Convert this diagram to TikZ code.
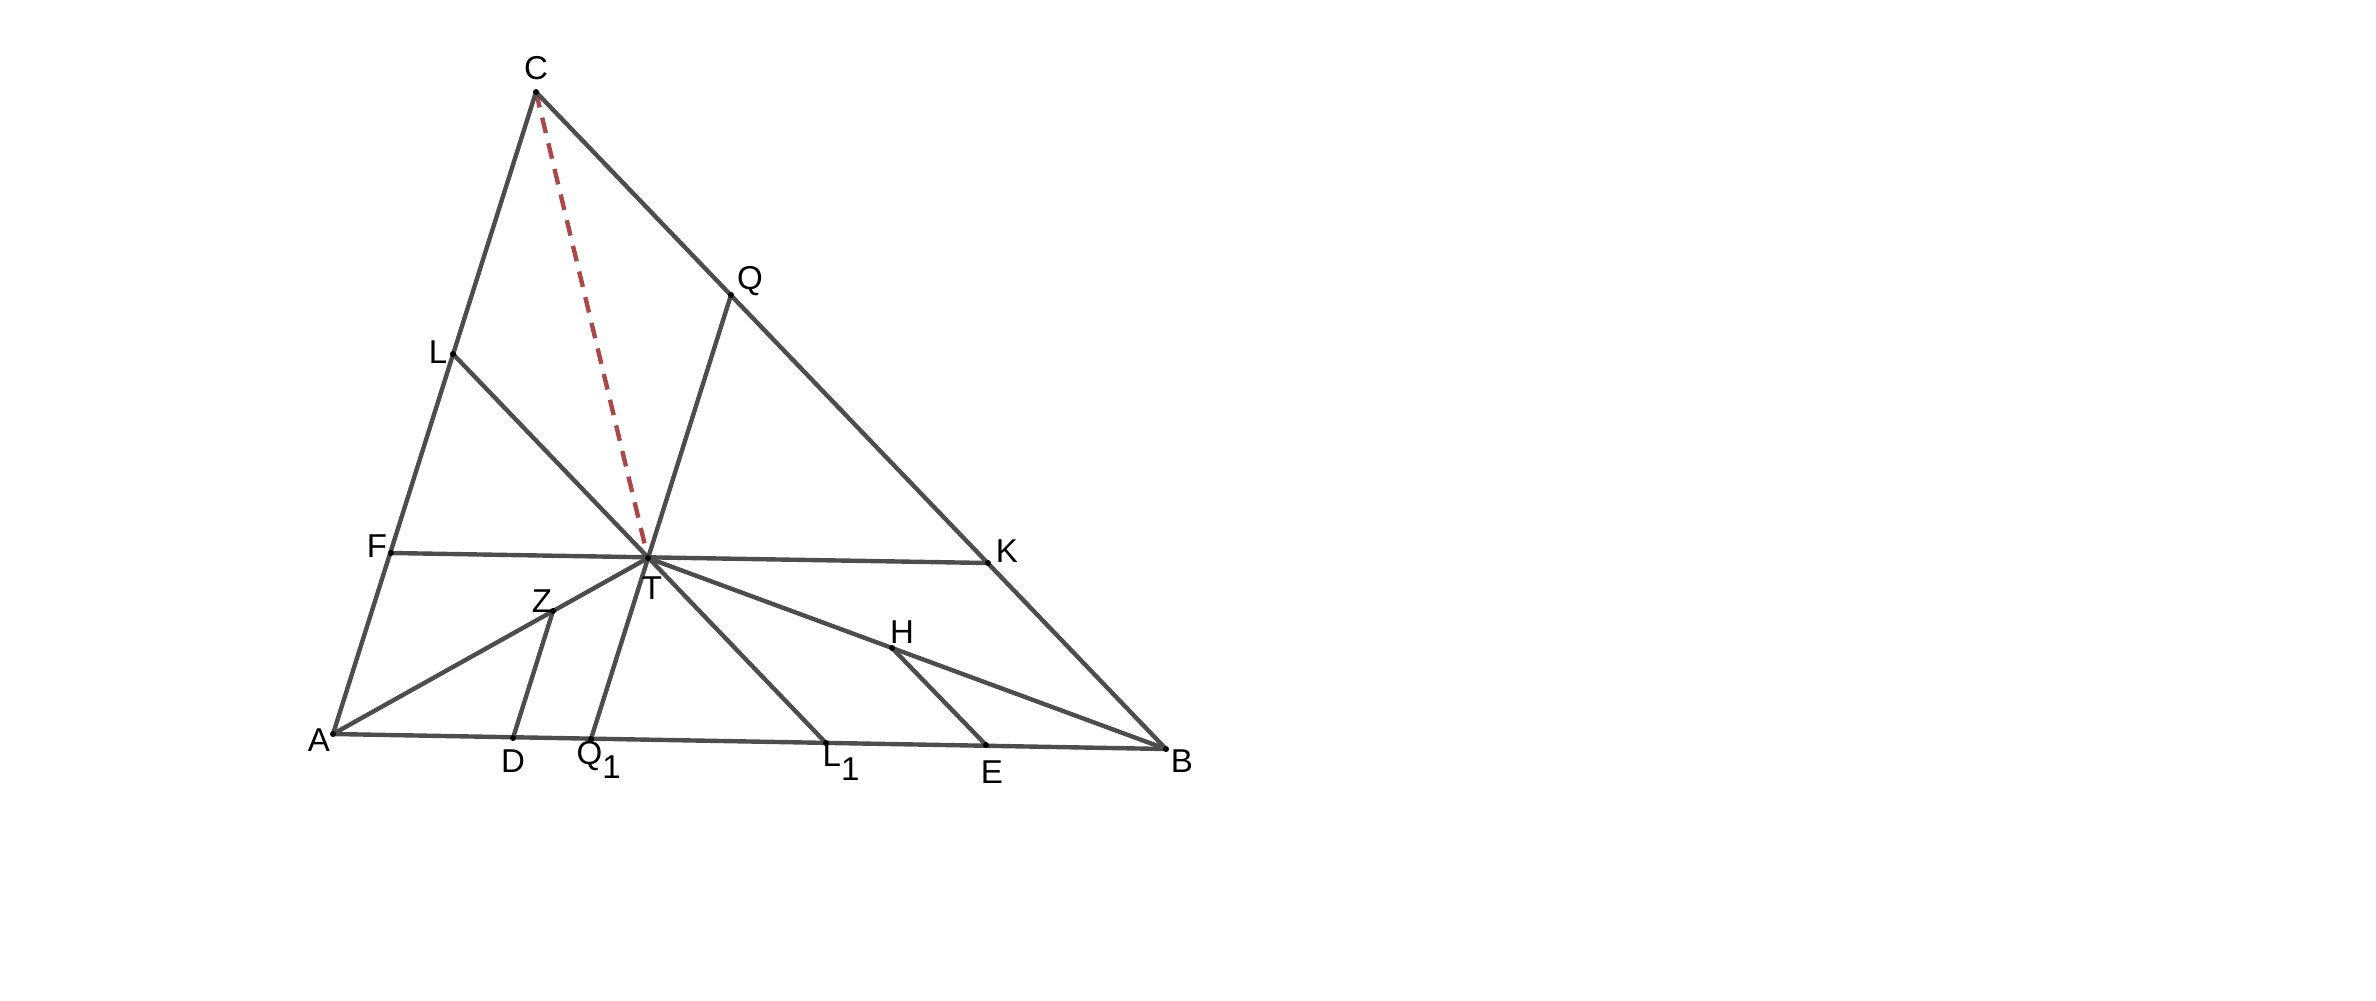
\documentclass[tikz,border=0pt]{standalone}
\usepackage{fontspec}
\setmainfont{Liberation Sans}
\definecolor{auxred}{RGB}{168,72,72}
\definecolor{seggray}{RGB}{77,77,77}
\begin{document}
\begin{tikzpicture}[x=0.01cm,y=-0.01cm,
  seg/.style={draw=seggray,line width=1.25pt},
  aux/.style={draw=auxred,line width=1.25pt,dash pattern=on 4.5pt off 3pt},
  pt/.style={circle,fill=black,inner sep=0pt,minimum size=0.06cm},
  lab/.style={font=\fontsize{9.4}{11}\selectfont,inner sep=0pt}]
\useasboundingbox (0,0) rectangle (2376,1000);
\coordinate (C) at (536,92);
\coordinate (A) at (333,734);
\coordinate (B) at (1166,749);
\coordinate (T) at (648,558);
\coordinate (L) at (453,354);
\coordinate (F) at (391,553);
\coordinate (Q) at (731,295);
\coordinate (K) at (988,563);
\coordinate (Z) at (553,611);
\coordinate (D) at (513,738);
\coordinate (Q1) at (591,739);
\coordinate (L1) at (826,743);
\coordinate (E) at (986,745);
\coordinate (H) at (892,648);
\draw[aux] (C) -- (T);
\draw[seg] (A) -- (B);
\draw[seg] (B) -- (C);
\draw[seg] (C) -- (A);
\draw[seg] (L) -- (L1);
\draw[seg] (F) -- (K);
\draw[seg] (Q) -- (Q1);
\draw[seg] (A) -- (T);
\draw[seg] (T) -- (B);
\draw[seg] (Z) -- (D);
\draw[seg] (H) -- (E);
\foreach \p in {C,A,B,T,L,F,Q,K,Z,D,Q1,L1,E,H} \node[pt] (p\p) at (\p) {};
\node[lab] (lC) at (536,68) {C};
\node[lab] (lA) at (319,740) {A};
\node[lab] (lB) at (1182,761) {B};
\node[lab] (lT) at (652,588) {T};
\node[lab] (lL) at (438,352) {L};
\node[lab] (lF) at (377,546) {F};
\node[lab] (lQ) at (750,281) {Q};
\node[lab] (lK) at (1007,551) {K};
\node[lab] (lZ) at (542,601) {Z};
\node[lab] (lD) at (513,761) {D};
\node[lab,anchor=west] (lQ1) at (576,760) {Q\raisebox{-0.8ex}{1}};
\node[lab,anchor=west] (lL1) at (822,762) {L\raisebox{-0.8ex}{1}};
\node[lab] (lE) at (992,772) {E};
\node[lab] (lH) at (902,632) {H};
\end{tikzpicture}
\end{document}
